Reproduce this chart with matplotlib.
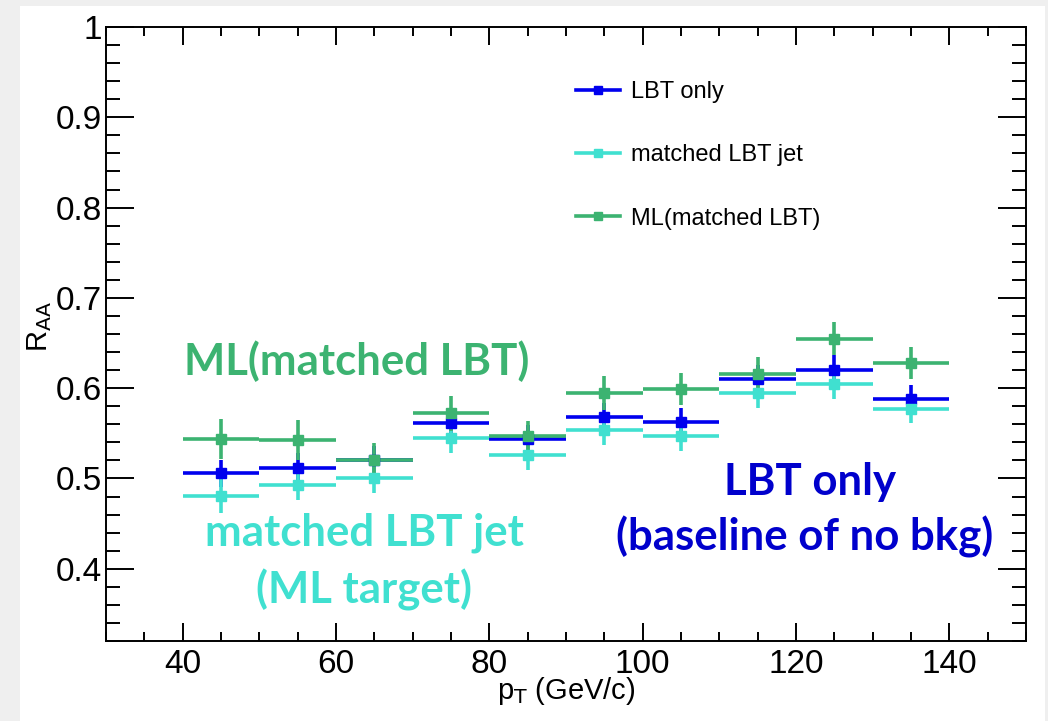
import matplotlib
matplotlib.use("Agg")
import matplotlib.pyplot as plt
from matplotlib.lines import Line2D
from matplotlib.patches import Rectangle
from matplotlib.ticker import MultipleLocator, FormatStrFormatter

# ---- data ----
bin_centers = [45, 55, 65, 75, 85, 95, 105, 115, 125, 135]
bin_halfwidth = [5] * 10

lbt_only = [0.506, 0.512, 0.520, 0.561, 0.5435, 0.568, 0.562, 0.610, 0.620, 0.588]
lbt_only_err = [0.015, 0.016, 0.016, 0.016, 0.016, 0.016, 0.016, 0.016, 0.017, 0.0155]

matched = [0.481, 0.493, 0.501, 0.545, 0.526, 0.554, 0.547, 0.595, 0.605, 0.577]
matched_err = [0.0195, 0.017, 0.017, 0.017, 0.0165, 0.017, 0.017, 0.017, 0.0167, 0.0155]

ml = [0.544, 0.543, 0.521, 0.572, 0.547, 0.595, 0.599, 0.616, 0.655, 0.628]
ml_err = [0.022, 0.022, 0.018, 0.019, 0.017, 0.019, 0.018, 0.0185, 0.018, 0.018]

labels = ["LBT only", "matched LBT jet", "ML(matched LBT)"]
c_blue = "#0000ee"
c_cyan = "#40e0d0"
c_green = "#3cb371"

fig = plt.figure(figsize=(10.48, 7.21), dpi=100, facecolor="#efefef")
fig.add_artist(Rectangle((20 / 1048, 0), (1045 - 20) / 1048, 1 - 6 / 721,
                         transform=fig.transFigure, facecolor="white",
                         edgecolor="none", zorder=-10))
ax = fig.add_axes([106 / 1048, 1 - 641 / 721, (1026 - 106) / 1048, (641 - 27) / 721])
ax.set_facecolor("white")
ax.set_zorder(1)

for y, e, c in [(lbt_only, lbt_only_err, c_blue), (matched, matched_err, c_cyan), (ml, ml_err, c_green)]:
    ax.errorbar(bin_centers, y, xerr=bin_halfwidth, yerr=e, fmt="s", color=c,
                ecolor=c, elinewidth=2.6, markersize=6.5, capsize=0)

ax.set_xlim(30, 150)
ax.set_ylim(0.32, 1.0)
ax.xaxis.set_major_locator(MultipleLocator(20))
ax.xaxis.set_minor_locator(MultipleLocator(5))
ax.yaxis.set_major_locator(MultipleLocator(0.1))
ax.yaxis.set_minor_locator(MultipleLocator(0.02))
ax.yaxis.set_major_formatter(FormatStrFormatter("%g"))

tick_font = "Liberation Sans"
ax.tick_params(axis="both", which="both", direction="in", top=True, right=True, width=1.4,
               labelsize=24, colors="black")
ax.tick_params(axis="x", which="major", length=13, pad=6)
ax.tick_params(axis="x", which="minor", length=6.5)
ax.tick_params(axis="y", which="major", length=20, pad=3)
ax.tick_params(axis="y", which="minor", length=10)
for lab in ax.get_xticklabels() + ax.get_yticklabels():
    lab.set_fontfamily(tick_font)
for s in ax.spines.values():
    s.set_linewidth(1.4)

fig.text(566 / 1048, 1 - 691 / 721, r"p$_{\mathrm{T}}$ (GeV/c)", ha="center", va="center",
         fontsize=21, family=tick_font)
fig.text(40 / 1048, 1 - 326 / 721, r"R$_{\mathrm{AA}}$", ha="center", va="center",
         fontsize=21, family=tick_font, rotation=90)

handles = [Line2D([], [], color=c, marker="s", markersize=6, linewidth=2.6)
           for c in (c_blue, c_cyan, c_green)]
fig.legend(handles, labels, loc="upper left", bbox_to_anchor=(576 / 1048, 1 - 81 / 721),
           frameon=False, prop={"family": tick_font, "size": 17},
           labelspacing=1.75, handlelength=1.85, handletextpad=0.5, borderpad=0,
           borderaxespad=0)

bold = dict(fontweight="bold", family="Lato", fontsize=31.5, ha="center", va="center")
fig.text(357 / 1048, 1 - 361 / 721, "ML(matched LBT)", color=c_green, **bold)
fig.text(364 / 1048, 1 - 533 / 721, "matched LBT jet", color=c_cyan, **bold)
fig.text(364 / 1048, 1 - 590 / 721, "(ML target)", color=c_cyan, **bold)
fig.text(810 / 1048, 1 - 482 / 721, "LBT only", color="#0000cc", **bold)
fig.text(805 / 1048, 1 - 537 / 721, "(baseline of no bkg)", color="#0000cc", **bold)

fig.savefig("out.png", dpi=100, facecolor=fig.get_facecolor())
